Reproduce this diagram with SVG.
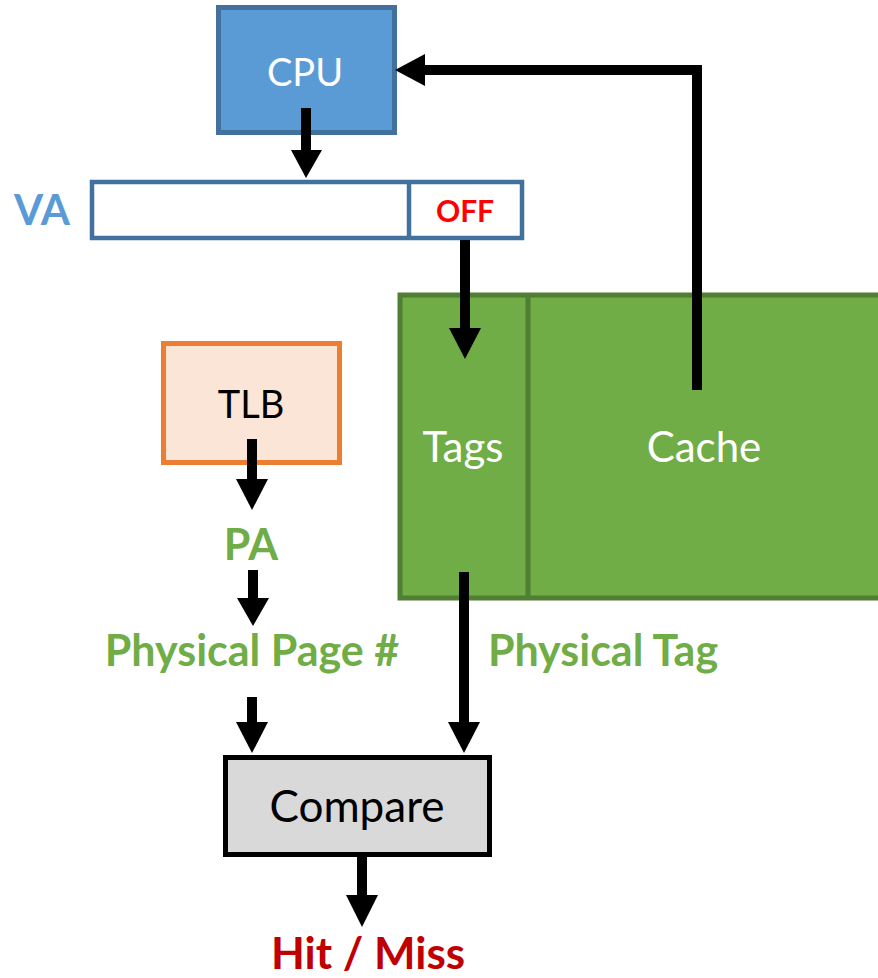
<svg xmlns="http://www.w3.org/2000/svg" width="878" height="978" viewBox="0 0 878 978">
<defs>
<style>
text{font-family:Lato,"Open Sans","Liberation Sans",sans-serif;text-anchor:middle}
.w{fill:#fff;font-size:42px}
.k{fill:#000;font-size:38px}
.g{fill:#70AD47;font-size:43px;font-weight:bold}
.ln{stroke:#000;stroke-width:10;fill:none}
.hd{fill:#000}
</style>
</defs>
<rect width="878" height="978" fill="#fff"/>
<g id="cpu">
<rect x="218.5" y="7.5" width="176" height="125" fill="#5B9BD5" stroke="#41719C" stroke-width="5"/>
<text class="w" x="305" y="86" style="font-size:38px">CPU</text>
</g>
<g id="va">
<text x="42" y="225" style="fill:#5B9BD5;font-size:42px;font-weight:bold">VA</text>
<rect x="92" y="182" width="430" height="56" fill="#fff" stroke="#41719C" stroke-width="4.5"/>
<line x1="409" y1="182" x2="409" y2="238" stroke="#41719C" stroke-width="4.5"/>
<text x="465" y="222" style="fill:#FF0000;font-size:30px;font-weight:bold">OFF</text>
</g>
<g id="cache">
<rect x="400" y="295" width="490" height="303" fill="#70AD47" stroke="#507E32" stroke-width="5"/>
<line x1="528" y1="295" x2="528" y2="598" stroke="#507E32" stroke-width="5"/>
<text class="w" x="463" y="462">Tags</text>
<text class="w" x="704" y="462">Cache</text>
</g>
<g id="tlb">
<rect x="163.5" y="343.5" width="176" height="119" fill="#FBE5D6" stroke="#ED7D31" stroke-width="5"/>
<text class="k" x="251" y="418">TLB</text>
</g>
<g id="pa"><text class="g" x="251" y="560">PA</text></g>
<g id="ppn"><text class="g" x="252" y="666">Physical Page #</text></g>
<g id="ptag"><text class="g" x="603" y="666">Physical Tag</text></g>
<g id="compare">
<rect x="225.5" y="757.5" width="264" height="97" fill="#D9D9D9" stroke="#000" stroke-width="5"/>
<text class="k" x="357" y="822" style="font-size:44px">Compare</text>
</g>
<g id="hitmiss"><text x="368" y="969" style="fill:#C00000;font-size:44px;font-weight:bold">Hit / Miss</text></g>
<g id="connectors">
<line class="ln" x1="306" y1="108" x2="306" y2="152"/>
<polygon class="hd" points="291,150 322,150 306,178"/>
<polyline class="ln" points="697,390 697,70 423,70"/>
<polygon class="hd" points="425,54 425,86 395,70"/>
<line class="ln" x1="465" y1="240" x2="465" y2="330"/>
<polygon class="hd" points="449,328 481,328 465,359"/>
<line class="ln" x1="252" y1="439" x2="252" y2="481"/>
<polygon class="hd" points="236,479 268,479 252,510"/>
<line class="ln" x1="253" y1="570" x2="253" y2="600"/>
<polygon class="hd" points="237,598 269,598 253,626"/>
<line class="ln" x1="252" y1="697" x2="252" y2="724"/>
<polygon class="hd" points="236,722 268,722 252,753"/>
<line class="ln" x1="464" y1="572" x2="464" y2="724"/>
<polygon class="hd" points="448,722 480,722 464,753"/>
<line class="ln" x1="362" y1="857" x2="362" y2="897"/>
<polygon class="hd" points="346,895 378,895 362,927"/>
</g>
</svg>
